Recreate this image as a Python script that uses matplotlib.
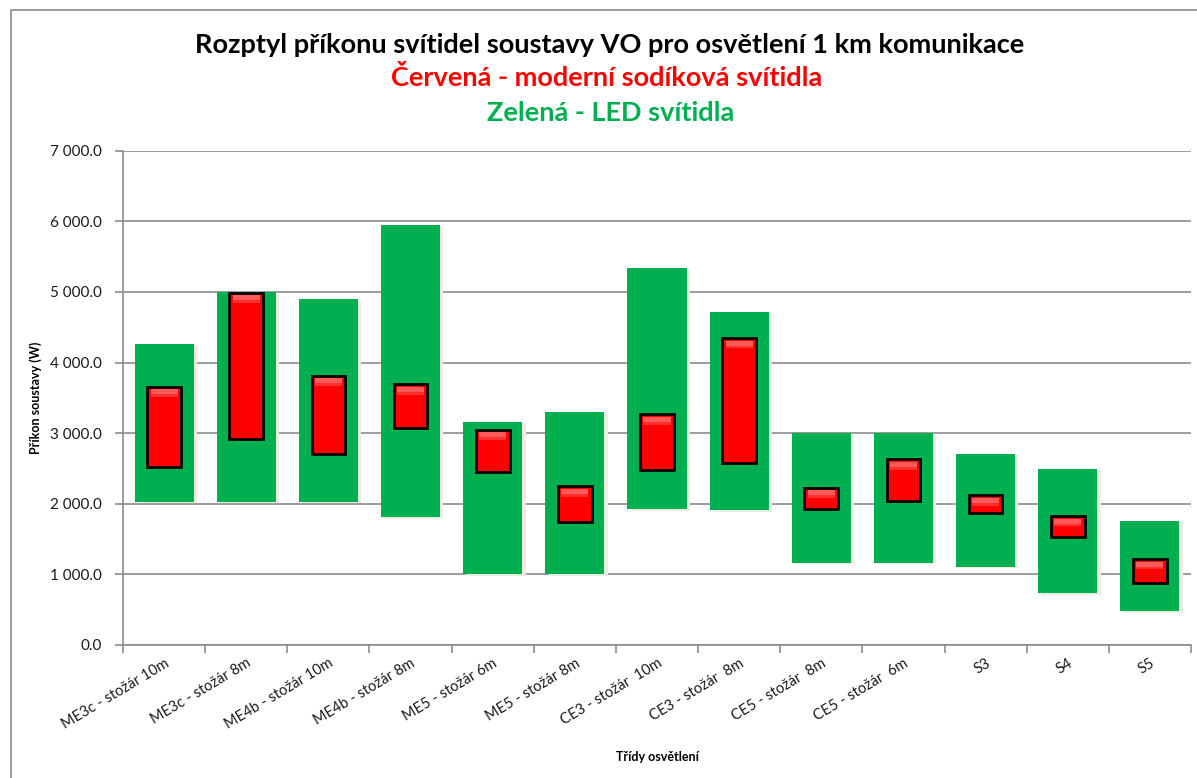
import numpy as np
import matplotlib.pyplot as plt
from matplotlib.lines import Line2D
from matplotlib.ticker import FuncFormatter, MultipleLocator

plt.rcParams['font.family'] = ['Lato', 'DejaVu Sans']

categories = ['ME3c - stožár 10m', 'ME3c - stožár 8m', 'ME4b - stožár 10m',
              'ME4b - stožár 8m', 'ME5 - stožár 6m', 'ME5 - stožár 8m',
              'CE3 - stožár  10m', 'CE3 - stožár  8m', 'CE5 - stožár  8m',
              'CE5 - stožár  6m', 'S3', 'S4', 'S5']

# LED luminaires (green) - min / max power
led_min = [2030, 2030, 2030, 1810, 1000, 1000, 1925, 1910, 1165, 1165, 1110, 730, 480]
led_max = [4260, 5000, 4900, 5945, 3160, 3295, 5335, 4720, 3000, 3000, 2705, 2495, 1760]

# modern sodium luminaires (red) - min / max power
na_min = [2525, 2915, 2705, 3070, 2445, 1745, 2480, 2575, 1920, 2040, 1865, 1535, 875]
na_max = [3660, 4985, 3815, 3690, 3045, 2245, 3265, 4345, 2230, 2630, 2120, 1825, 1215]

GREEN = '#00b050'
RED = '#ff0000'

fig = plt.figure(figsize=(11.97, 7.78), dpi=100)
ax = fig.add_axes([123 / 1197, 1 - 645 / 778, (1191 - 123) / 1197, (645 - 150.7) / 778])

x = np.arange(len(categories))
led_min = np.array(led_min)
led_max = np.array(led_max)
na_min = np.array(na_min)
na_max = np.array(na_max)

# faint shadow behind the green bars
ax.bar(x + 0.04, led_max - led_min, bottom=led_min - 25, width=0.72,
       color='#eceee0', zorder=2)
ax.bar(x, led_max - led_min, bottom=led_min, width=0.72, color=GREEN, zorder=3)

# red bars with a black rim and a soft light band at the top
ax.bar(x, na_max - na_min, bottom=na_min, width=0.41, color=RED,
       edgecolor='black', linewidth=2, zorder=4)
ax.bar(x, -70, bottom=na_max - 35, width=0.33, color='#ff5a5a', zorder=5)
ax.bar(x, -40, bottom=na_max - 105, width=0.33, color='#ff3030', zorder=5)

ax.set_xlim(-0.5, len(categories) - 0.5)
ax.set_ylim(0, 7000)
ax.yaxis.set_major_locator(MultipleLocator(1000))
ax.yaxis.set_major_formatter(FuncFormatter(lambda v, p: f'{v:,.1f}'.replace(',', ' ')))
ax.grid(axis='y', color='#8c8c8c', linewidth=1.2, zorder=0)
ax.set_axisbelow(True)

for s in ['top', 'right']:
    ax.spines[s].set_visible(False)
for s in ['left', 'bottom']:
    ax.spines[s].set_color('#8c8c8c')
    ax.spines[s].set_linewidth(1.2)

ax.set_xticks(x)
ax.set_xticklabels(categories, rotation=31, ha='right', rotation_mode='anchor',
                   fontsize=10.5, color='#1a1a1a')
ax.tick_params(axis='x', length=0, pad=8)
ax.set_xticks(np.arange(len(categories) + 1) - 0.5, minor=True)
ax.tick_params(axis='x', which='minor', length=6, color='#8c8c8c', width=1.2)
ax.tick_params(axis='y', length=6, color='#8c8c8c', width=1.2, labelsize=11,
               labelcolor='#1a1a1a', pad=9)

ax.set_ylabel('Příkon soustavy (W)', fontsize=9, fontweight='bold', labelpad=6)
ax.set_xlabel('Třídy osvětlení', fontsize=9, fontweight='bold', labelpad=14)

fig.text(610 / 1197, 1 - 45 / 778, 'Rozptyl příkonu svítidel soustavy VO pro osvětlení 1 km komunikace',
         ha='center', va='center', fontsize=19.5, fontweight='bold', color='black')
fig.text(607 / 1197, 1 - 78 / 778, 'Červená - moderní sodíková svítidla',
         ha='center', va='center', fontsize=19.5, fontweight='bold', color=RED)
fig.text(611 / 1197, 1 - 113 / 778, 'Zelená - LED svítidla',
         ha='center', va='center', fontsize=19.5, fontweight='bold', color=GREEN)

# chart area frame (left and top edges visible in the crop)
fig.add_artist(Line2D([11 / 1197, 11 / 1197, 1.0], [0.0, 1 - 10 / 778, 1 - 10 / 778],
                      transform=fig.transFigure, color='#8c8c8c', linewidth=1.2))

fig.savefig('out.png', dpi=100)
